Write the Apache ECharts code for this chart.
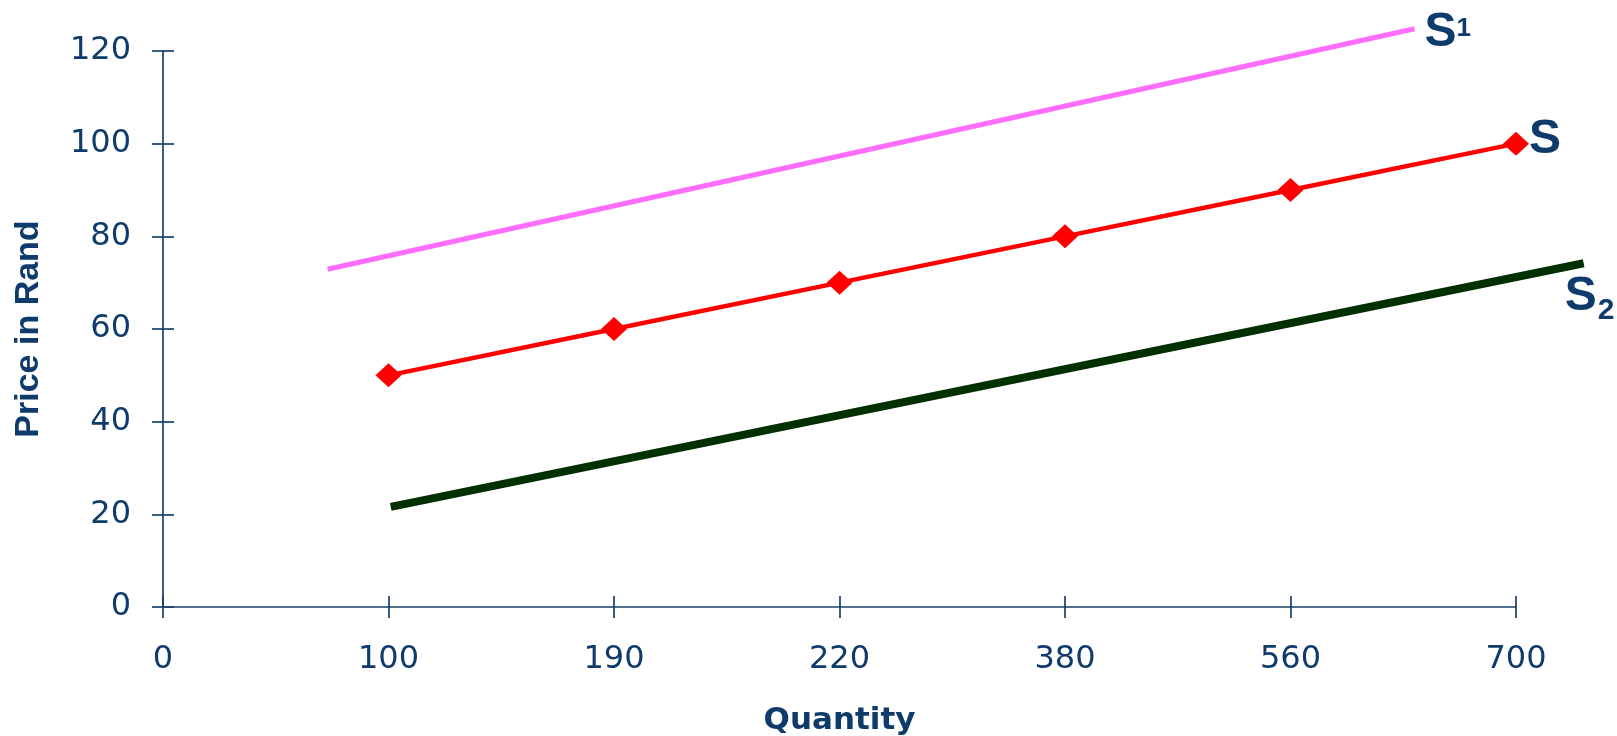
<!DOCTYPE html>
<html>
<head>
<meta charset="utf-8">
<script src="https://cdn.jsdelivr.net/npm/echarts@6/dist/echarts.min.js"></script>
<style>
  html, body { margin: 0; padding: 0; background: #ffffff; }
  #chart { width: 1617px; height: 736px; }
</style>
</head>
<body>
<div id="chart"></div>
<script>
// Quantity tick labels, one per evenly spaced position on the x axis
const quantityLabels = ['0', '100', '190', '220', '380', '560', '700'];

// Supply curve S: prices at quantity positions 1..6
const supplyPositions = [1, 2, 3, 4, 5, 6];
const supplyPrices = [50, 60, 70, 80, 90, 100];

// Shifted supply curves, given by their two end points [position, price]
const supplyS1 = [[0.73, 72.9], [5.55, 124.8]];
const supplyS2 = [[1.01, 21.6], [6.30, 74.2]];

// Price axis range
const priceMin = 0;
const priceMax = 120;
const priceStep = 20;

const navy = '#0f3b6c';
const axisColor = '#17406d';
const tickFont = 'DejaVu Sans';
const curveFont = 'Liberation Sans';

// Plot area geometry: the visible axes span positions 0..6, while the
// shifted curves use a wider hidden scale (0..extendedMax) on the same pixels
const plotLeft = 163, plotRight = 101, plotTop = 51, plotBottom = 129;
const chartWidth = 1617;
const lastPos = quantityLabels.length - 1;
const extendedMax = 6.4;
const unitPx = (chartWidth - plotLeft - plotRight) / lastPos;
const extendedRight = chartWidth - plotLeft - unitPx * extendedMax;

const chart = echarts.init(document.getElementById('chart'), null, { renderer: 'canvas' });

const baseX = {
  type: 'value', min: 0, max: lastPos, interval: 1, gridIndex: 0,
  splitLine: { show: false }
};
const baseY = {
  type: 'value', min: priceMin, max: priceMax, interval: priceStep, gridIndex: 0,
  splitLine: { show: false }
};

// Curve names: large bold "S" with a superscript or subscript digit
const curveRich = {
  s: { fontFamily: curveFont, fontWeight: 'bold', fontSize: 48, color: navy, lineHeight: 48 },
  sup: { fontFamily: curveFont, fontWeight: 'bold', fontSize: 26, color: navy, verticalAlign: 'top', padding: [7, 0, 0, 0] },
  sub: { fontFamily: curveFont, fontWeight: 'bold', fontSize: 30, color: navy, verticalAlign: 'top', padding: [27, 0, 0, 1] }
};

chart.setOption({
  animation: false,
  backgroundColor: '#ffffff',
  grid: [
    { left: plotLeft, right: plotRight, top: plotTop, bottom: plotBottom, containLabel: false, outerBoundsMode: 'none' },
    { left: plotLeft, right: extendedRight, top: plotTop, bottom: plotBottom, containLabel: false, outerBoundsMode: 'none' }
  ],
  xAxis: [
    Object.assign({}, baseX, {
      position: 'bottom',
      name: 'Quantity', nameLocation: 'middle', nameGap: 98,
      nameTextStyle: { fontFamily: tickFont, fontWeight: 'bold', fontSize: 31, color: navy },
      axisLine: { show: true, onZero: false, lineStyle: { color: axisColor, width: 1.7 } },
      axisTick: { show: true, inside: false, length: 11, lineStyle: { color: axisColor, width: 1.7 } },
      axisLabel: {
        show: true, margin: 37, fontFamily: tickFont, fontSize: 32, color: navy,
        formatter: v => quantityLabels[v]
      }
    }),
    Object.assign({}, baseX, {
      position: 'bottom',
      axisLine: { show: false },
      axisTick: { show: true, inside: true, length: 11, lineStyle: { color: axisColor, width: 1.7 } },
      axisLabel: { show: false }
    }),
    { type: 'value', gridIndex: 1, min: 0, max: extendedMax, show: false }
  ],
  yAxis: [
    Object.assign({}, baseY, {
      position: 'left',
      name: 'Price in Rand', nameLocation: 'middle', nameGap: 117, nameRotate: 90,
      nameTextStyle: { fontFamily: curveFont, fontWeight: 'bold', fontSize: 34, color: navy },
      axisLine: { show: true, onZero: false, lineStyle: { color: axisColor, width: 1.7 } },
      axisTick: { show: true, inside: false, length: 11, lineStyle: { color: axisColor, width: 1.7 } },
      axisLabel: { show: true, margin: 32, fontFamily: tickFont, fontSize: 32, color: navy }
    }),
    Object.assign({}, baseY, {
      position: 'left',
      axisLine: { show: false },
      axisTick: { show: true, inside: true, length: 11, lineStyle: { color: axisColor, width: 1.7 } },
      axisLabel: { show: false }
    }),
    { type: 'value', gridIndex: 1, min: priceMin, max: priceMax, show: false }
  ],
  series: [
    {
      name: 'S1', type: 'line', xAxisIndex: 2, yAxisIndex: 2,
      data: supplyS1, clip: false, showSymbol: false, symbol: 'none',
      lineStyle: { color: '#ff6dff', width: 5 },
      endLabel: {
        show: true, distance: 10, offset: [0, 4],
        formatter: '{s|S}{sup|1}', rich: curveRich
      }
    },
    {
      name: 'S', type: 'line', xAxisIndex: 0, yAxisIndex: 0,
      data: supplyPositions.map((p, i) => [p, supplyPrices[i]]),
      clip: false, symbol: 'diamond', symbolSize: [26, 24], showSymbol: true,
      itemStyle: { color: '#ff0000' },
      lineStyle: { color: '#ff0000', width: 4.5 },
      endLabel: {
        show: true, distance: 13, offset: [0, -4],
        formatter: '{s|S}', rich: curveRich
      }
    },
    {
      name: 'S2', type: 'line', xAxisIndex: 2, yAxisIndex: 2,
      data: supplyS2, clip: false, showSymbol: false, symbol: 'none',
      lineStyle: { color: '#003000', width: 8 },
      endLabel: {
        show: true, distance: 0, offset: [-19, 34],
        formatter: '{s|S}{sub|2}', rich: curveRich
      }
    }
  ]
});
</script>
</body>
</html>
